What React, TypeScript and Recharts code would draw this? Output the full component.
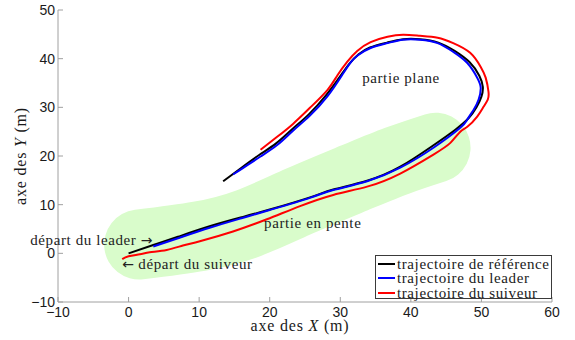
import { LineChart, Line, XAxis, YAxis, ReferenceDot, Legend } from "recharts";

// trajectoires (m)
const referencePath = [
  { x: 0, y: 0 }, { x: 3.5, y: 1.7 }, { x: 7, y: 3.4 }, { x: 11.6, y: 5.6 },
  { x: 16, y: 7.4 }, { x: 20, y: 9.0 }, { x: 25.7, y: 11.5 }, { x: 29, y: 13.1 },
  { x: 33.8, y: 14.9 }, { x: 38.5, y: 17.8 }, { x: 43, y: 22.0 }, { x: 46.3, y: 25.4 },
  { x: 48.2, y: 27.8 }, { x: 49.3, y: 30 }, { x: 50.0, y: 32.2 }, { x: 50.2, y: 34.2 },
  { x: 49.7, y: 36.5 }, { x: 48.3, y: 39.3 }, { x: 46.2, y: 41.6 }, { x: 43.9, y: 43.3 },
  { x: 41.3, y: 44.0 }, { x: 38.9, y: 44.0 }, { x: 36.6, y: 43.3 }, { x: 34.2, y: 42.3 },
  { x: 32.6, y: 40.9 }, { x: 31.3, y: 39.0 }, { x: 30.0, y: 36.4 }, { x: 28.0, y: 32.5 },
  { x: 25.5, y: 28.5 }, { x: 23.1, y: 25.4 }, { x: 20.9, y: 22.6 }, { x: 18.5, y: 20.2 },
  { x: 16.0, y: 17.6 }, { x: 13.4, y: 14.8 },
];

const leaderPath = [
  { x: 3.5, y: 1.4 }, { x: 7, y: 3.1 }, { x: 11.6, y: 5.3 }, { x: 16, y: 7.2 },
  { x: 20, y: 8.9 }, { x: 25.7, y: 11.4 }, { x: 29.0, y: 13.0 }, { x: 33.8, y: 14.8 },
  { x: 38.5, y: 17.6 }, { x: 43.2, y: 21.7 }, { x: 47.0, y: 25.8 }, { x: 48.0, y: 27.5 },
  { x: 48.9, y: 29.5 }, { x: 49.6, y: 31.6 }, { x: 49.9, y: 34.0 }, { x: 49.4, y: 36.1 },
  { x: 48.0, y: 39.1 }, { x: 46.0, y: 41.4 }, { x: 43.8, y: 43.2 }, { x: 41.3, y: 43.9 },
  { x: 38.9, y: 43.9 }, { x: 36.7, y: 43.2 }, { x: 34.3, y: 42.2 }, { x: 32.5, y: 40.7 },
  { x: 31.4, y: 39.1 }, { x: 30.2, y: 36.5 }, { x: 28.2, y: 32.3 }, { x: 25.7, y: 28.3 },
  { x: 23.3, y: 25.2 }, { x: 21.1, y: 22.3 }, { x: 18.7, y: 19.9 }, { x: 16.2, y: 17.5 },
  { x: 14.8, y: 16.2 },
];

const followerPath = [
  { x: -0.9, y: -1.2 }, { x: 0, y: -0.6 }, { x: 1.6, y: -0.2 }, { x: 3.0, y: 0.2 },
  { x: 5.4, y: 0.7 }, { x: 7.7, y: 1.6 }, { x: 10.1, y: 2.5 }, { x: 14.8, y: 4.5 },
  { x: 19.6, y: 7.0 }, { x: 24.3, y: 9.7 }, { x: 29.0, y: 12.0 }, { x: 33.8, y: 13.7 },
  { x: 38.5, y: 16.4 }, { x: 43.2, y: 20.3 }, { x: 45.6, y: 22.7 }, { x: 47.0, y: 25.0 },
  { x: 48.0, y: 26.0 }, { x: 49.4, y: 28.1 }, { x: 50.3, y: 30.1 }, { x: 50.9, y: 31.6 },
  { x: 51.0, y: 33.2 }, { x: 50.6, y: 36.1 }, { x: 49.9, y: 38.3 }, { x: 48.4, y: 41.2 },
  { x: 46.0, y: 43.2 }, { x: 43.8, y: 44.3 }, { x: 41.3, y: 44.7 }, { x: 38.9, y: 44.9 },
  { x: 36.7, y: 44.5 }, { x: 34.3, y: 43.4 }, { x: 32.4, y: 41.6 }, { x: 31.0, y: 39.4 },
  { x: 29.6, y: 36.6 }, { x: 28.2, y: 33.6 }, { x: 25.7, y: 29.9 }, { x: 23.3, y: 26.6 },
  { x: 21.1, y: 24.0 }, { x: 18.7, y: 21.3 },
];

// zone en pente (bande verte)
const slopeZone = [
  { x: 1.5, y: 1.8 }, { x: 10, y: 3.5 }, { x: 17, y: 6.2 }, { x: 24.3, y: 10.8 },
  { x: 32, y: 15.5 }, { x: 38, y: 19.0 }, { x: 43.5, y: 21.7 },
];

const xTicks = [-10, 0, 10, 20, 30, 40, 50, 60];
const yTicks = [-10, 0, 10, 20, 30, 40, 50];

const notes = [
  { x: 38.6, y: 36.1, text: "partie plane", anchor: "middle", arrow: "" },
  { x: 26.1, y: 6.3, text: "partie en pente", anchor: "middle", arrow: "" },
  { x: 3.4, y: 2.8, text: "départ du leader ", anchor: "end", arrow: "after" },
  { x: -0.9, y: -2.2, text: " départ du suiveur", anchor: "start", arrow: "before" },
];

const SERIF = "'Liberation Serif', 'DejaVu Serif', serif";
const SANS = "'Liberation Sans', Arial, sans-serif";
const AXIS_GRAY = "#a0a0a0";
const TEXT = "#1a1a1a";

const fmt = (v: number) => String(v).replace("-", "\u2212");

function XTick({ x, y, payload }: any) {
  return (
    <g>
      <line x1={x} x2={x} y1={y} y2={y - 5} stroke={AXIS_GRAY} />
      <text x={x} y={y + 15} textAnchor="middle" fontFamily={SANS} fontSize={14} fill={TEXT}>
        {fmt(payload.value)}
      </text>
    </g>
  );
}

function YTick({ x, y, payload }: any) {
  return (
    <g>
      <line x1={x} x2={x + 5} y1={y} y2={y} stroke={AXIS_GRAY} />
      <text x={x - 3} y={y + 5} textAnchor="end" fontFamily={SANS} fontSize={14} fill={TEXT}>
        {fmt(payload.value)}
      </text>
    </g>
  );
}

function LegendBox({ payload }: any) {
  const items = (payload || []).filter((p: any) => p.type !== "none");
  return (
    <div
      style={{
        border: "1px solid #3a3a3a",
        background: "#fff",
        width: 177,
        height: 44,
        boxSizing: "border-box",
        paddingTop: 1,
      }}
    >
      {items.map((p: any) => (
        <div key={p.value} style={{ display: "flex", alignItems: "center", height: 14.3 }}>
          <span style={{ width: 17, height: 2, background: p.color, marginLeft: 2, marginRight: 2 }} />
          <span style={{ fontFamily: SERIF, fontSize: 15, letterSpacing: 0.6, color: TEXT, lineHeight: "14px" }}>
            {p.value}
          </span>
        </div>
      ))}
    </div>
  );
}

function Note({ cx, cy, note }: any) {
  const arrow = (ch: string) => (
    <tspan fontFamily="'DejaVu Sans', sans-serif" fontSize={14} letterSpacing={0}>
      {ch}
    </tspan>
  );
  return (
    <text x={cx} y={cy + 5} textAnchor={note.anchor} fontFamily={SERIF} fontSize={15} letterSpacing={0.6} fill="#222">
      {note.arrow === "before" && arrow("\u2190")}
      {note.text}
      {note.arrow === "after" && arrow("\u2192")}
    </text>
  );
}

export default function App() {
  return (
    <div style={{ position: "absolute", left: 0, top: 0, width: 575, height: 340, background: "#fff" }}>
      <LineChart width={575} height={340} margin={{ top: 10, right: 23, bottom: 0, left: 0 }}>
        <XAxis
          type="number"
          dataKey="x"
          domain={[-10, 60]}
          ticks={xTicks}
          allowDataOverflow
          height={38}
          stroke={AXIS_GRAY}
          tickSize={0}
          tickMargin={0}
          tick={<XTick />}
          label={{
            content: ({ viewBox }: any) => (
              <text x={viewBox.x + 242} y={viewBox.y + 29} textAnchor="middle" fontFamily={SERIF} fontSize={16} letterSpacing={0.8} fill={TEXT}>
                axe des <tspan fontStyle="italic">X</tspan> (m)
              </text>
            ),
          }}
        />
        <YAxis
          type="number"
          dataKey="y"
          domain={[-10, 50]}
          ticks={yTicks}
          allowDataOverflow
          width={58}
          stroke={AXIS_GRAY}
          tickSize={0}
          tickMargin={0}
          tick={<YTick />}
          label={{
            content: ({ viewBox }: any) => {
              const cx = viewBox.x + 26;
              const cy = viewBox.y + 146;
              return (
                <text x={cx} y={cy} transform={`rotate(-90 ${cx} ${cy})`} textAnchor="middle" fontFamily={SERIF} fontSize={16} letterSpacing={0.8} fill={TEXT}>
                  axe des <tspan fontStyle="italic">Y</tspan> (m)
                </text>
              );
            },
          }}
        />
        <Line
          data={slopeZone}
          dataKey="y"
          type="natural"
          stroke="#d9fccb"
          strokeWidth={70}
          strokeLinecap="round"
          strokeLinejoin="round"
          dot={false}
          legendType="none"
          isAnimationActive={false}
        />
        {notes.map((n) => (
          <ReferenceDot key={n.text} x={n.x} y={n.y} r={0} shape={(p: any) => <Note cx={p.cx} cy={p.cy} note={n} />} />
        ))}
        <Line data={referencePath} dataKey="y" name="trajectoire de référence" type="natural" stroke="#000" strokeWidth={2} dot={false} isAnimationActive={false} />
        <Line data={leaderPath} dataKey="y" name="trajectoire du leader" type="natural" stroke="#0000ff" strokeWidth={2} dot={false} isAnimationActive={false} />
        <Line data={followerPath} dataKey="y" name="trajectoire du suiveur" type="natural" stroke="#ff0000" strokeWidth={2} dot={false} isAnimationActive={false} />
        <Legend
          layout="vertical"
          align="center"
          verticalAlign="middle"
          wrapperStyle={{ left: 375, top: 255, width: 177 }}
          content={<LegendBox />}
        />
      </LineChart>
    </div>
  );
}
